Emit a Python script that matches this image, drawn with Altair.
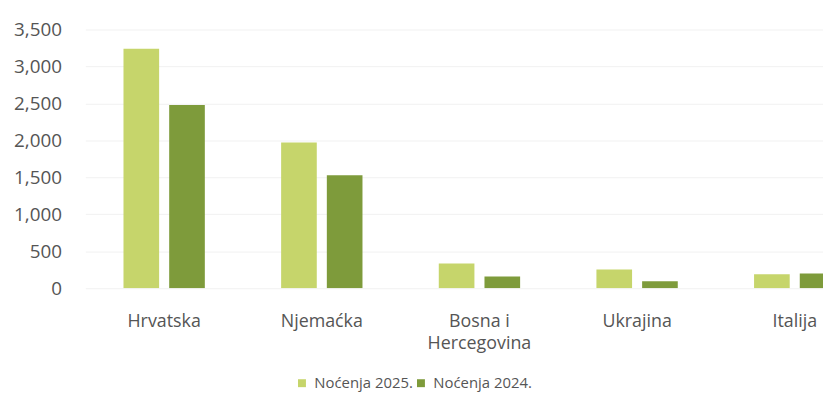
import altair as alt
import pandas as pd

countries = ["Hrvatska", "Njemaćka", "Bosna i Hercegovina", "Ukrajina", "Italija"]
series = ["Noćenja 2025.", "Noćenja 2024."]
n2025 = [3240, 1970, 335, 255, 190]
n2024 = [2480, 1530, 160, 95, 200]
y_ticks = [0, 500, 1000, 1500, 2000, 2500, 3000, 3500]
colors = ["#c6d56b", "#7e9b3b"]

rows = []
for i, c in enumerate(countries):
    rows.append({"country": c, "series": series[0], "value": n2025[i]})
    rows.append({"country": c, "series": series[1], "value": n2024[i]})
df = pd.DataFrame(rows)

font = "Open Sans"

chart = alt.Chart(df).mark_bar(clip=True).encode(
    x=alt.X("country:N", sort=countries,
            scale=alt.Scale(range=[0, 795], paddingInner=0.484, paddingOuter=0.242),
            axis=alt.Axis(title=None, labelAngle=0, domain=False, ticks=False,
                          labelFont=font, labelFontSize=18, labelColor="#555555",
                          labelPadding=25, labelLineHeight=22, labelBaseline="top",
                          labelExpr="datum.label == 'Bosna i Hercegovina' ? ['Bosna i', 'Hercegovina'] : datum.label")),
    xOffset=alt.XOffset("series:N", sort=series,
                        scale=alt.Scale(paddingInner=0.22, paddingOuter=0)),
    y=alt.Y("value:Q", scale=alt.Scale(domain=[0, 3500], nice=False),
            axis=alt.Axis(title=None, values=y_ticks, format=",.0f", domain=False, ticks=False,
                          labelFont=font, labelFontSize=19, labelColor="#555555",
                          labelPadding=24, gridColor="#f1f1f1")),
    color=alt.Color("series:N", sort=series,
                    scale=alt.Scale(domain=series, range=colors),
                    legend=alt.Legend(title=None, orient="none", direction="horizontal",
                                      legendX=211, legendY=349, symbolType="square",
                                      symbolSize=64, labelFont=font, labelFontSize=15,
                                      labelColor="#555555", columnPadding=0, labelOffset=5)),
).properties(
    width=744, height=261,
    autosize=alt.AutoSizeParams(type="none"),
    padding={"left": 78, "top": 20, "right": 0, "bottom": 106},
).configure_view(stroke=None)

chart.save("out.html", embed_options={"renderer": "svg", "actions": False})
